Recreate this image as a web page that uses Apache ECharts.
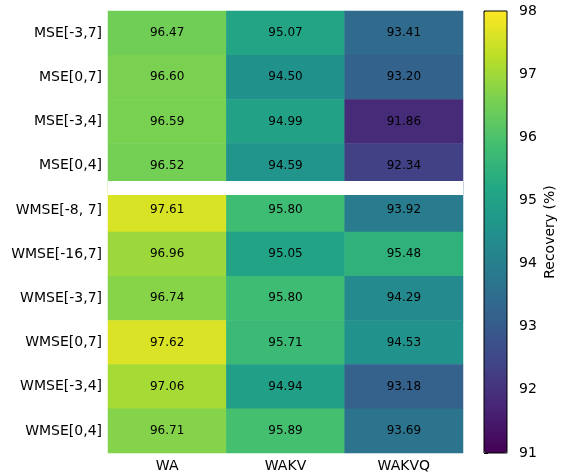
<!DOCTYPE html>
<html>
<head>
<meta charset="utf-8">
<script src="https://cdn.jsdelivr.net/npm/echarts@6/dist/echarts.min.js"></script>
<style>
  html, body { margin: 0; padding: 0; background: #fff; }
  #chart { width: 561px; height: 473px; }
</style>
</head>
<body>
<div id="chart"></div>
<script>
const rows = ['MSE[-3,7]', 'MSE[0,7]', 'MSE[-3,4]', 'MSE[0,4]', 'WMSE[-8, 7]', 'WMSE[-16,7]', 'WMSE[-3,7]', 'WMSE[0,7]', 'WMSE[-3,4]', 'WMSE[0,4]'];
const cols = ['WA', 'WAKV', 'WAKVQ'];
const WA = [96.47, 96.60, 96.59, 96.52, 97.61, 96.96, 96.74, 97.62, 97.06, 96.71];
const WAKV = [95.07, 94.50, 94.99, 94.59, 95.80, 95.05, 95.80, 95.71, 94.94, 95.89];
const WAKVQ = [93.41, 93.20, 91.86, 92.34, 93.92, 95.48, 94.29, 94.53, 93.18, 93.69];
const colorMin = 91;
const colorMax = 98;
const groupBreakBefore = 4;

const seriesByCol = [WA, WAKV, WAKVQ];
const cells = [];
seriesByCol.forEach((vals, c) => {
  vals.forEach((v, r) => cells.push([c, r, v]));
});

const viridis = ['#440154', '#482475', '#414487', '#355f8d', '#2a788e', '#21918c', '#22a884', '#44bf70', '#7ad151', '#bddf26', '#fde725'];
const FONT = 'DejaVu Sans';

const chart = echarts.init(document.getElementById('chart'), null, { renderer: 'canvas' });
chart.setOption({
  animation: false,
  backgroundColor: '#fff',
  textStyle: { fontFamily: FONT },
  grid: [
    { left: 108, right: 98, top: 11, bottom: 20, containLabel: false },
    { left: 484, width: 23, top: 11, bottom: 20, show: true, borderColor: '#000', borderWidth: 1, backgroundColor: 'transparent', z: 6 }
  ],
  xAxis: [
    {
      gridIndex: 0, type: 'category', data: cols, position: 'bottom',
      axisLine: { show: false }, axisTick: { show: false }, splitLine: { show: false },
      axisLabel: { color: '#000', fontSize: 14, fontFamily: FONT, margin: 6 }
    },
    { gridIndex: 1, type: 'value', show: false, min: 0, max: 1 }
  ],
  yAxis: [
    {
      gridIndex: 0, type: 'category', data: rows, inverse: true, z: 10,
      axisLine: { show: false }, axisTick: { show: false },
      axisLabel: { color: '#000', fontSize: 14, fontFamily: FONT, margin: 6 },
      splitLine: {
        show: true,
        showMinLine: false,
        showMaxLine: false,
        interval: function (index) { return index === 0 || index === groupBreakBefore; },
        lineStyle: { color: '#fff', width: 14 }
      }
    },
    {
      gridIndex: 1, type: 'value', min: colorMin, max: colorMax, interval: 1, position: 'right',
      axisLine: { show: false },
      axisTick: { show: true, length: 4, lineStyle: { color: '#000', width: 1 } },
      splitLine: { show: false },
      axisLabel: { color: '#000', fontSize: 14, fontFamily: FONT, margin: 12 },
      name: 'Recovery (%)', nameLocation: 'middle', nameRotate: 90, nameGap: 36,
      nameTextStyle: { color: '#000', fontSize: 14, fontFamily: FONT }
    }
  ],
  visualMap: {
    type: 'continuous', min: colorMin, max: colorMax, dimension: 2, seriesIndex: 0,
    calculable: false, hoverLink: false, orient: 'vertical',
    left: 484, top: 11, itemWidth: 23, itemHeight: 442, padding: 0,
    inRange: { color: viridis }
  },
  series: [
    {
      type: 'heatmap', xAxisIndex: 0, yAxisIndex: 0, data: cells,
      label: {
        show: true, color: '#000', fontSize: 12, fontFamily: FONT,
        formatter: p => p.value[2].toFixed(2)
      },
      itemStyle: { borderWidth: 0 },
      emphasis: { disabled: true }
    }
  ]
});
</script>
</body>
</html>
